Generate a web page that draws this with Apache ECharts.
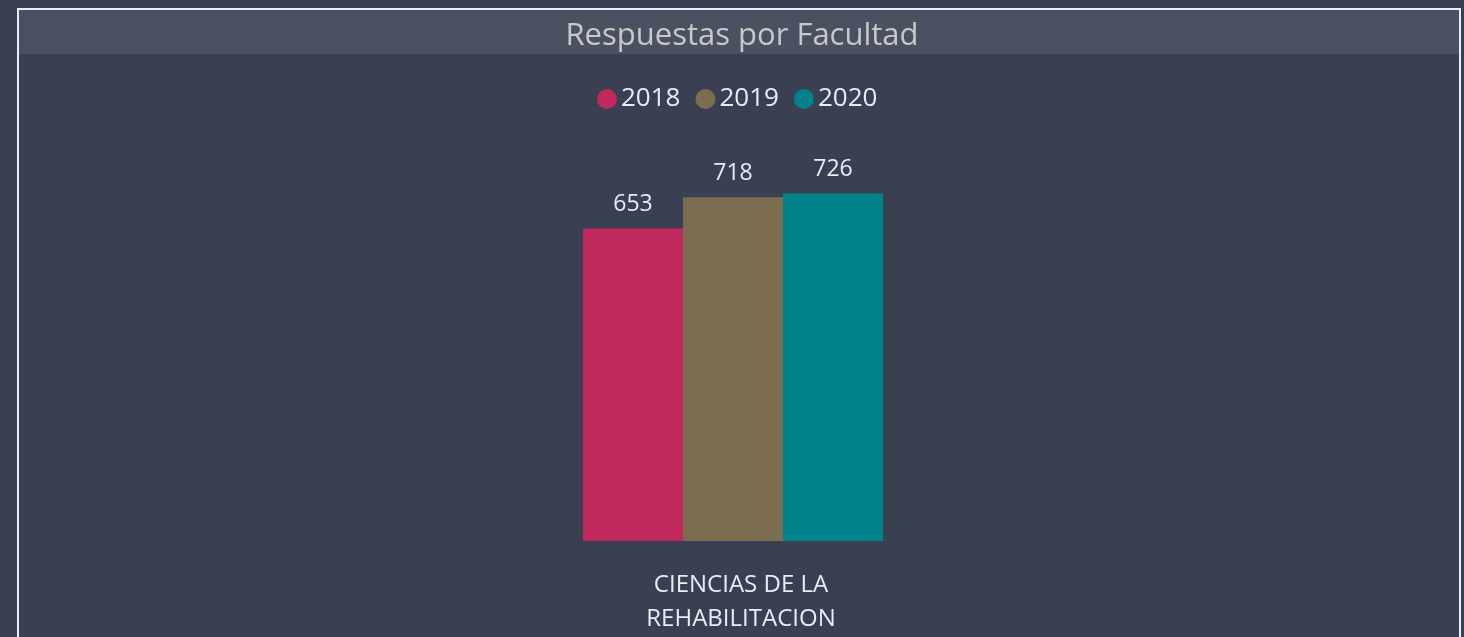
<!DOCTYPE html>
<html>
<head>
<meta charset="utf-8">
<style>
  html, body { margin: 0; padding: 0; background: #3a3f51; }
  #chart { width: 1464px; height: 637px; }
</style>
<script src="https://cdn.jsdelivr.net/npm/echarts@6/dist/echarts.min.js"></script>
</head>
<body>
<div id="chart"></div>
<script>
const categories = ["CIENCIAS DE LA\nREHABILITACION"]
const years = ["2018", "2019", "2020"]
const values2018 = [653]
const values2019 = [718]
const values2020 = [726]
const colors = ["#c1285c", "#7b6e50", "#00838b"]

const font = '"Segoe UI", "Open Sans", sans-serif'
const chart = echarts.init(document.getElementById("chart"))

const makeSeries = (name, data, color) => ({
  name,
  type: "bar",
  data,
  barWidth: 100,
  barGap: "0%",
  itemStyle: { color },
  label: {
    show: true,
    position: "top",
    distance: 12,
    color: "#e6edf5",
    fontSize: 23,
    lineHeight: 23,
    fontFamily: font,
  },
})

chart.setOption({
  backgroundColor: "#3a3f51",
  animation: false,
  graphic: [
    {
      type: "rect",
      shape: { x: 18, y: 9, width: 1442, height: 640 },
      style: { fill: "none", stroke: "#e8eef5", lineWidth: 2 },
    },
    {
      type: "rect",
      shape: { x: 19, y: 10, width: 1440, height: 44 },
      style: { fill: "#4a5161" },
    },
  ],
  title: {
    text: "Respuestas por Facultad",
    left: 737,
    textAlign: "center",
    top: 16,
    textStyle: { color: "#c8c8c8", fontSize: 31, fontWeight: "normal", fontFamily: font },
  },
  legend: {
    data: years,
    left: 592,
    top: 81,
    icon: "circle",
    itemWidth: 20,
    itemHeight: 20,
    itemGap: 15,
    textStyle: { color: "#e6edf5", fontSize: 26, fontFamily: font, padding: [0, 0, 0, -1] },
  },
  grid: { left: 20, right: 18, top: 158, bottom: 96 },
  xAxis: {
    type: "category",
    data: categories,
    axisLine: { show: false },
    axisTick: { show: false },
    axisLabel: {
      color: "#e6edf5",
      fontSize: 24,
      lineHeight: 34,
      margin: 27,
      fontFamily: font,
      padding: [0, 0, 0, 16],
    },
  },
  yAxis: {
    type: "value",
    min: 0,
    max: 800,
    show: false,
    splitLine: { show: false },
  },
  series: [
    makeSeries(years[0], values2018, colors[0]),
    makeSeries(years[1], values2019, colors[1]),
    makeSeries(years[2], values2020, colors[2]),
  ],
})
</script>
</body>
</html>
